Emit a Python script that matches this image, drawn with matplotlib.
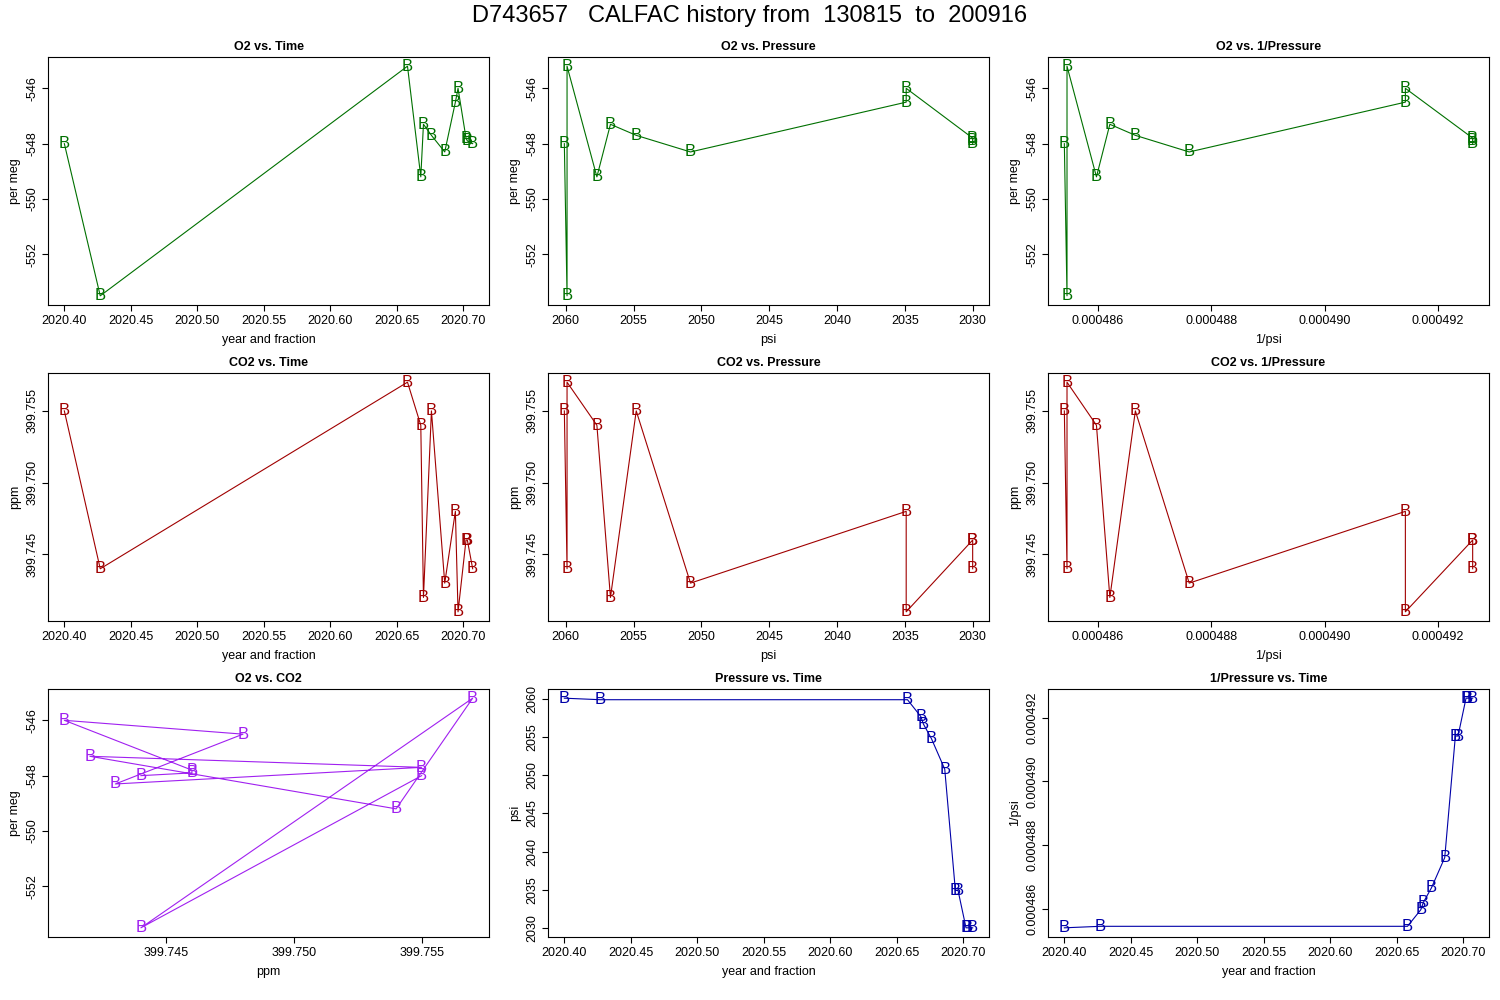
import numpy as np
import matplotlib
matplotlib.use("Agg")
import matplotlib.pyplot as plt

plt.rcParams['font.family'] = ['Liberation Sans', 'DejaVu Sans']

# data
t = [2020.400, 2020.427, 2020.658, 2020.668, 2020.670, 2020.676,
     2020.686, 2020.694, 2020.696, 2020.702, 2020.703, 2020.707]
o2 = [-548.0, -553.5, -545.2, -549.2, -547.3, -547.7,
      -548.3, -546.5, -546.0, -547.8, -547.9, -548.0]
co2 = [399.755, 399.744, 399.757, 399.754, 399.742, 399.755,
       399.743, 399.748, 399.741, 399.746, 399.746, 399.744]
psi = [2060.1, 2059.9, 2059.9, 2057.7, 2056.7, 2054.8,
       2050.8, 2034.9, 2034.9, 2030.0, 2030.0, 2030.0]
inv = [1.0 / p for p in psi]

green = '#007000'
red = '#a00000'
purple = '#a020f0'
blue = '#0000a8'

panels = [
    ('O2 vs. Time', t, o2, 'year and fraction', 'per meg', green),
    ('O2 vs. Pressure', psi, o2, 'psi', 'per meg', green),
    ('O2 vs. 1/Pressure', inv, o2, '1/psi', 'per meg', green),
    ('CO2 vs. Time', t, co2, 'year and fraction', 'ppm', red),
    ('CO2 vs. Pressure', psi, co2, 'psi', 'ppm', red),
    ('CO2 vs. 1/Pressure', inv, co2, '1/psi', 'ppm', red),
    ('O2 vs. CO2', co2, o2, 'ppm', 'per meg', purple),
    ('Pressure vs. Time', t, psi, 'year and fraction', 'psi', blue),
    ('1/Pressure vs. Time', t, inv, 'year and fraction', '1/psi', blue),
]

ticks = {
    'year and fraction': (np.arange(2020.40, 2020.701, 0.05), '%.2f'),
    'psi': (np.arange(2030, 2061, 5), '%d'),
    '1/psi': (np.array([0.000486, 0.000488, 0.000490, 0.000492]), '%.6f'),
    'ppm': (np.array([399.745, 399.750, 399.755]), '%.3f'),
    'per meg': (np.arange(-552, -545, 2), '%d'),
}

fig = plt.figure(figsize=(15, 10), dpi=100)
lefts = [48 / 1500, 548 / 1500, 1048 / 1500]
bottoms = [0.695, 0.379, 0.063]
w, h = 441 / 1500, 0.248

for i, (title, x, y, xl, yl, c) in enumerate(panels):
    r, col = divmod(i, 3)
    ax = fig.add_axes([lefts[col], bottoms[r], w, h])
    ax.plot(x, y, '-', color=c, lw=0.8)
    for xi, yi in zip(x, y):
        ax.text(xi, yi, 'B', color=c, fontsize=12, ha='center', va='center')
    xr = max(x) - min(x)
    yr = max(y) - min(y)
    ax.set_xlim(min(x) - 0.04 * xr, max(x) + 0.04 * xr)
    ax.set_ylim(min(y) - 0.04 * yr, max(y) + 0.04 * yr)
    if xl == 'psi':
        ax.invert_xaxis()
    tx, fx = ticks[xl]
    ty, fy = ticks[yl]
    ax.set_xticks(tx)
    ax.set_xticklabels([fx % v for v in tx], fontsize=9)
    ax.set_yticks(ty)
    ax.set_yticklabels([fy % v for v in ty], fontsize=9, rotation=90, va='center')
    ax.set_title(title, fontsize=9, fontweight='bold', pad=5)
    ax.set_xlabel(xl, fontsize=9, labelpad=5)
    ax.set_ylabel(yl, fontsize=9, labelpad=4)
    ax.tick_params(length=4, pad=3)

fig.suptitle('D743657   CALFAC history from  130815  to  200916', fontsize=17, y=0.995)
fig.savefig('out.png', dpi=100)
